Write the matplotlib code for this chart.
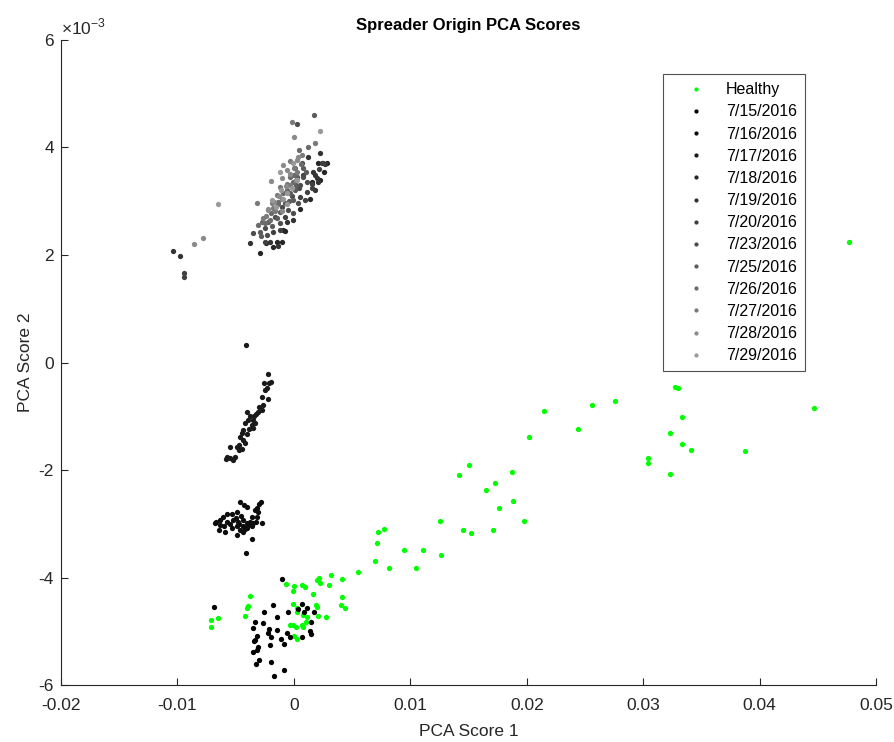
import matplotlib
matplotlib.use('Agg')
import matplotlib.pyplot as plt
from matplotlib.ticker import FuncFormatter, MultipleLocator

plt.rcParams['font.family'] = ['Liberation Sans', 'DejaVu Sans']
plt.rcParams['axes.unicode_minus'] = False
plt.rcParams['mathtext.fontset'] = 'custom'
plt.rcParams['mathtext.rm'] = 'Liberation Sans'

# y values below are in units of 1e-3
Y_SCALE = 1e-3

labels = ['Healthy', '7/15/2016', '7/16/2016', '7/17/2016', '7/18/2016', '7/19/2016',
          '7/20/2016', '7/23/2016', '7/25/2016', '7/26/2016', '7/27/2016', '7/28/2016',
          '7/29/2016']

healthy_x = [0.02151, 0.02438, 0.02017, 0.01506, 0.01415, 0.01873, 0.01725, 0.01647, 0.01884,
             0.01762, 0.01976, 0.01255, 0.01450, 0.01521, 0.01707, 0.00774, 0.00720, 0.00714,
             0.00948, 0.01109, 0.01266, 0.00699, 0.00817, 0.01046, 0.00548, 0.00321, 0.00416,
             0.00218, 0.00201, 0.00227, 0.00299, 0.00070, 0.00095, 0.00003, -0.00010, 0.00167,
             0.00416, -0.00008, 0.00190, 0.00196, 0.00405, 0.00439, 0.00024, 0.00029, 0.00081,
             0.00115, 0.00210, 0.00273, -0.00065, -0.00374, -0.00397, -0.00405, -0.00420,
             0.00104, 0.00067, -0.00033, -0.00005, 0.00015, 0.00081, 0.00003, 0.00029,
             -0.00715, -0.00655, -0.00715, 0.04765, 0.03273, 0.03302, 0.02560, 0.02755,
             0.04470, 0.03331, 0.03233, 0.03333, 0.03413, 0.03872, 0.03041, 0.03041, 0.03228]
healthy_y = [-0.90, -1.23, -1.39, -1.90, -2.09, -2.04, -2.24, -2.37, -2.58,
             -2.71, -2.94, -2.94, -3.12, -3.18, -3.11, -3.10, -3.16, -3.35,
             -3.48, -3.49, -3.58, -3.69, -3.82, -3.82, -3.90, -3.95, -4.03,
             -4.00, -4.05, -4.11, -4.14, -4.14, -4.17, -4.16, -4.25, -4.31,
             -4.36, -4.49, -4.51, -4.55, -4.52, -4.57, -4.57, -4.65, -4.70,
             -4.74, -4.71, -4.74, -4.13, -4.34, -4.53, -4.57, -4.72,
             -4.82, -4.88, -4.88, -4.88, -4.92, -4.92, -5.09, -5.15,
             -4.79, -4.76, -4.92, 2.24, -0.46, -0.47, -0.79, -0.72,
             -0.85, -1.01, -1.32, -1.52, -1.62, -1.64, -1.77, -1.87, -2.08]

d0715_x = [-0.00102, -0.00689, -0.00182, -0.00254, -0.00143, -0.00051, 0.00038, 0.00089, 0.00173,
           -0.00332, -0.00265, -0.00354, -0.00214, -0.00143, -0.00220, -0.00197, -0.00062, -0.00033,
           0.00144, 0.00138, 0.00144, 0.00067, -0.00320, -0.00334, -0.00343, -0.00306, -0.00320,
           -0.00349, -0.00113, -0.00082, -0.00205, -0.00297, -0.00326, -0.00197, -0.00082, -0.00168,
           0.00070, 0.00110]
d0715_y = [-4.03, -4.55, -4.52, -4.65, -4.73, -4.65, -4.59, -4.64, -4.64,
           -4.83, -4.85, -4.93, -4.95, -4.98, -5.04, -5.10, -5.03, -5.10,
           -4.82, -5.00, -5.05, -5.10, -5.09, -5.16, -5.18, -5.30, -5.35,
           -5.39, -5.14, -5.24, -5.26, -5.53, -5.60, -5.57, -5.72, -5.83,
           -4.50, -4.57]

d0716_x = [-0.00463, -0.00429, -0.00283, -0.00297, -0.00320, -0.00306, -0.00314, -0.00326, -0.00349,
           -0.00405, -0.00486, -0.00534, -0.00577, -0.00606, -0.00635, -0.00669, -0.00678, -0.00635,
           -0.00577, -0.00520, -0.00478, -0.00435, -0.00405, -0.00377, -0.00491, -0.00463, -0.00440,
           -0.00405, -0.00362, -0.00277, -0.00641, -0.00592, -0.00534, -0.00491, -0.00362, -0.00414,
           -0.00470, -0.00440, -0.00420, -0.00390, -0.00500, -0.00550, -0.00360, -0.00330, -0.00600,
           -0.00450]
d0716_y = [-2.60, -2.66, -2.59, -2.64, -2.71, -2.78, -2.87, -2.96, -2.99,
           -2.68, -2.78, -2.81, -2.82, -2.87, -2.93, -2.96, -2.99, -3.02,
           -2.96, -2.93, -2.96, -2.93, -2.99, -2.96, -3.05, -3.12, -3.15,
           -3.08, -3.05, -2.99, -3.12, -3.15, -3.08, -3.21, -3.28, -3.54,
           -3.00, -3.05, -3.10, -3.02, -2.90, -3.00, -2.88, -2.75, -3.05,
           -2.85]

d0717_x = [-0.00409, -0.00222, -0.00254, -0.00211, -0.00197, -0.00234, -0.00246, -0.00277, -0.00225,
           -0.00297, -0.00263, -0.00277, -0.00306, -0.00326, -0.00343, -0.00405, -0.00377, -0.00354,
           -0.00392, -0.00420, -0.00362, -0.00334, -0.00349, -0.00383, -0.00435, -0.00448, -0.00405,
           -0.00463, -0.00435, -0.00420, -0.00469, -0.00448, -0.00491, -0.00549, -0.00469, -0.00577,
           -0.00549, -0.00520, -0.00506, -0.00583]
d0717_y = [0.33, -0.21, -0.38, -0.39, -0.36, -0.48, -0.51, -0.64, -0.68,
           -0.82, -0.79, -0.88, -0.92, -0.95, -1.00, -0.93, -1.00, -1.07,
           -1.07, -1.13, -1.16, -1.12, -1.21, -1.24, -1.26, -1.32, -1.33,
           -1.39, -1.44, -1.50, -1.53, -1.60, -1.57, -1.58, -1.63, -1.75,
           -1.78, -1.81, -1.76, -1.80]

d0718_x = [0.00210, 0.00282, 0.00224, 0.00153, -0.00091, -0.00148, -0.00177, -0.00291, -0.00239, -0.00105,
           0.00140, 0.00260, 0.00050, -0.00080]
d0718_y = [3.71, 3.71, 3.40, 3.36, 2.47, 2.25, 2.15, 2.04, 2.22, 2.25,
           3.05, 3.55, 2.85, 2.45]

d0719_x = [0.00239, 0.00224, 0.00196, 0.00181, 0.00167, 0.00124, 0.00210, -0.00205, -0.00377, -0.00134,
           -0.00062, -0.01036, -0.00980, 0.00180, -0.00010, 0.00270]
d0719_y = [3.72, 3.89, 3.43, 3.49, 3.55, 3.82, 3.35, 2.25, 2.23, 2.17,
           2.62, 2.08, 1.98, 3.20, 2.65, 3.70]

d0720_x = [0.00153, 0.00153, 0.00110, 0.00095, 0.00052, 0.00081, -0.00248, -0.00119, -0.00177, -0.00076,
           0.00253, 0.00220, -0.00940, -0.00940]
d0720_y = [3.33, 3.24, 3.18, 3.02, 3.08, 3.49, 2.25, 2.47, 2.43, 2.71,
           3.71, 3.60, 1.66, 1.60]

d0723_x = [0.00110, 0.00038, -0.00005, -0.00048, -0.00119, -0.00234, -0.00349, 0.00067, 0.00024, 0.00052,
           -0.00100, -0.00020, 0.00040, -0.00160, -0.00250, 0.00080]
d0723_y = [3.36, 2.96, 2.78, 2.84, 2.59, 2.37, 2.41, 3.71, 4.43, 3.30,
           2.90, 3.10, 3.25, 2.70, 2.50, 3.45]

d0725_x = [0.00009, -0.00005, -0.00076, -0.00148, -0.00191, -0.00291, 0.00173, 0.00081, 0.00024, -0.00033,
           -0.00120, -0.00040, 0.00020, -0.00220, 0.00100, -0.00280]
d0725_y = [3.21, 3.02, 2.96, 2.68, 2.54, 2.43, 4.61, 3.61, 3.46, 3.15,
           2.80, 3.00, 3.30, 2.62, 3.55, 2.35]

d0726_x = [-0.00033, -0.00005, -0.00091, -0.00134, -0.00205, -0.00248, -0.00306, 0.00124, 0.00046, 0.00009,
           -0.00140, -0.00060, 0.00000, -0.00200, 0.00060, -0.00270]
d0726_y = [3.46, 3.36, 3.15, 2.99, 2.65, 2.59, 2.56, 4.01, 3.95, 3.61,
           2.95, 3.20, 3.48, 2.78, 3.70, 2.62]

d0727_x = [-0.00062, -0.00119, -0.00148, -0.00191, -0.00162, -0.00263, -0.00019, 0.00181, 0.00067, -0.00033,
           -0.00320, -0.00100, -0.00030, -0.00180, 0.00030, -0.00240, 0.00000]
d0727_y = [3.33, 3.27, 3.12, 2.96, 2.81, 2.68, 4.47, 4.08, 3.86, 3.74,
           2.96, 3.05, 3.30, 2.88, 3.55, 2.72, 3.62]

d0728_x = [-0.00105, -0.00062, -0.00105, -0.00220, 0.00001, 0.00038, 0.00024, -0.00091, -0.00855, -0.00778,
           -0.00198, -0.00130, -0.00070, -0.00170, 0.00020, -0.00030, -0.00220]
d0728_y = [3.43, 3.58, 2.81, 2.84, 4.19, 3.83, 3.77, 3.67, 2.20, 2.32,
           3.38, 3.10, 3.28, 2.98, 3.40, 3.50, 2.85]

d0729_x = [0.00224, -0.00119, -0.00655, -0.00005, -0.00062, -0.00090, -0.00020, 0.00030, -0.00150, -0.00060,
           -0.00110, -0.00190]
d0729_y = [4.31, 3.55, 2.94, 3.71, 3.15, 3.05, 3.25, 3.40, 2.90, 2.95,
           3.20, 3.02]

series_x = [healthy_x, d0715_x, d0716_x, d0717_x, d0718_x, d0719_x, d0720_x, d0723_x, d0725_x,
            d0726_x, d0727_x, d0728_x, d0729_x]
series_y = [healthy_y, d0715_y, d0716_y, d0717_y, d0718_y, d0719_y, d0720_y, d0723_y, d0725_y,
            d0726_y, d0727_y, d0728_y, d0729_y]

# marker colours: green for healthy, then black fading to grey
grays = [0.0, 0.05, 0.1, 0.15, 0.2, 0.25, 0.3, 0.36, 0.42, 0.48, 0.54, 0.6]
colours = [(0.0, 1.0, 0.0)] + [(g, g, g) for g in grays]


def main():
    fig = plt.figure(figsize=(8.94, 7.42), dpi=100)
    ax = fig.add_axes([0.0682, 0.0768, 0.9118, 0.8693])

    for xs, ys, col, lab in zip(series_x, series_y, colours, labels):
        ax.plot(xs, [v * Y_SCALE for v in ys], 'o', ms=3.8, mew=0, color=col, label=lab)

    ax.set_xlim(-0.02, 0.05)
    ax.set_ylim(-6e-3, 6e-3)
    ax.xaxis.set_major_locator(MultipleLocator(0.01))
    ax.yaxis.set_major_locator(MultipleLocator(2e-3))
    ax.xaxis.set_major_formatter(FuncFormatter(lambda v, p: '%g' % round(v, 4)))
    ax.yaxis.set_major_formatter(FuncFormatter(lambda v, p: '%g' % round(v / Y_SCALE, 3)))

    axis_col = '#262626'
    for side in ['top', 'right']:
        ax.spines[side].set_visible(False)
    for side in ['left', 'bottom']:
        ax.spines[side].set_color(axis_col)
        ax.spines[side].set_linewidth(0.8)
    ax.tick_params(direction='in', length=5, width=0.8, colors=axis_col, labelsize=12.5)
    ax.tick_params(axis='x', pad=9)
    ax.tick_params(axis='y', pad=5)

    # exponent label like MATLAB's
    ax.text(0.0, 1.004, r'$\times$10$^{\mathregular{-3}}$', transform=ax.transAxes,
            ha='left', va='bottom', fontsize=12.5, color=axis_col)

    ax.set_xlabel('PCA Score 1', fontsize=12.5, color=axis_col, labelpad=8)
    ax.set_ylabel('PCA Score 2', fontsize=12.5, color=axis_col, labelpad=4)
    ax.set_title('Spreader Origin PCA Scores', fontsize=12, fontweight='bold', y=1.0, pad=7)

    leg = ax.legend(loc='upper right', bbox_to_anchor=(0.913, 0.947), fontsize=11.5,
                    frameon=True, fancybox=False, handlelength=3.1, handletextpad=0.35,
                    labelspacing=0.45, borderpad=0.5, borderaxespad=0, markerscale=0.8)
    leg.get_frame().set_edgecolor(axis_col)
    leg.get_frame().set_linewidth(0.8)

    fig.savefig('out.png', dpi=100)
    plt.close(fig)


if __name__ == '__main__':
    main()
